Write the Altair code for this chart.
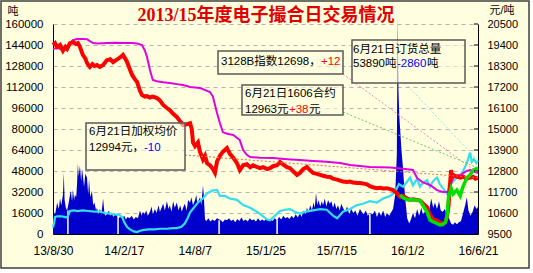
import json
import altair as alt
import pandas as pd

# ---------------- data ----------------
title_text = "2013/15年度电子撮合日交易情况"
x_tick_days = [0, 171, 342, 513, 684, 855, 1026]
x_tick_labels = ["13/8/30", "14/2/17", "14/8/7", "15/1/25", "15/7/15", "16/1/2", "16/6/21"]
left_ticks = [0, 16000, 32000, 48000, 64000, 80000, 96000, 112000, 128000, 144000, 160000]
right_ticks = [9500, 10600, 11700, 12800, 13900, 15000, 16100, 17200, 18300, 19400, 20500]

# daily volume (tons, left axis)
vol_day = [0, 3, 5, 8, 10, 14, 17, 20, 24, 26, 28, 31, 34, 38, 41, 43, 46, 48, 51, 53, 56, 58, 60, 62, 65,
           68, 70, 72, 75, 78, 82, 85, 87, 90, 94, 97, 100, 104, 106, 110, 113, 117, 121, 124, 126, 130, 135,
           138, 142, 146, 150, 155, 158, 162, 167, 172, 176, 180, 185, 190, 195, 200, 205, 210, 214, 217, 221,
           225, 229, 234, 238, 241, 246, 250, 255, 258, 262, 266, 270, 275, 279, 282, 286, 290, 294, 299, 303,
           307, 311, 314, 318, 323, 326, 331, 334, 338, 343, 346, 348, 352, 355, 358, 362, 364, 367, 370, 375,
           380, 385, 390, 396, 405, 410, 415, 420, 425, 430, 435, 440, 445, 450, 455, 460, 465, 470, 475, 480,
           485, 490, 495, 500, 505, 510, 515, 520, 525, 530, 535, 541, 546, 551, 556, 561, 566, 571, 576, 581,
           586, 591, 596, 600, 605, 610, 613, 617, 621, 625, 629, 632, 635, 638, 641, 645, 649, 652, 656, 660,
           664, 668, 672, 676, 680, 684, 688, 692, 696, 700, 705, 710, 715, 720, 725, 730, 735, 741, 745, 750,
           755, 760, 765, 772, 777, 782, 787, 792, 797, 802, 806, 812, 817, 821, 826, 830, 832, 834, 836, 838,
           841, 845, 848, 851, 855, 860, 864, 869, 874, 879, 884, 889, 893, 898, 903, 908, 913, 918, 922, 927,
           932, 936, 941, 946, 951, 956, 961, 966, 970, 975, 980, 985, 990, 995, 999, 1003, 1008, 1013, 1018,
           1022, 1026]
vol_val = [14000, 16000, 15000, 20000, 24000, 19000, 27000, 22000, 30000, 47000, 26000, 20000, 18000, 24000,
           30000, 33000, 25000, 34000, 26000, 30000, 28000, 38000, 54000, 44000, 52000, 40000, 50000, 45000,
           36000, 46000, 43000, 30000, 42000, 28000, 33000, 22000, 24000, 18000, 20000, 15000, 19000, 16000,
           27000, 16000, 14000, 15000, 18000, 14000, 16000, 13000, 15000, 14000, 12000, 13000, 12000, 14000,
           11000, 13000, 12000, 14000, 11000, 13000, 12000, 18000, 14000, 17000, 15000, 18000, 14000, 17000,
           21000, 15000, 19000, 16000, 22000, 17000, 20000, 23000, 18000, 25000, 19000, 22000, 17000, 25000,
           20000, 24000, 18000, 22000, 17000, 20000, 23000, 18000, 26000, 24000, 28000, 22000, 26000, 30000,
           24000, 26000, 28000, 22000, 37000, 30000, 11000, 10000, 12000, 9500, 11000, 10000, 12000, 10500,
           9000, 11000, 10500, 12000, 10000, 11000, 9000, 11500, 10000, 12500, 10000, 11000, 9500, 12000,
           10500, 11000, 9500, 12000, 10000, 11000, 10000, 12000, 10500, 11500, 10000, 12000, 10500, 13000,
           11000, 14000, 12000, 13000, 11500, 14000, 12000, 15000, 12500, 16000, 13000, 18000, 15000, 20000,
           17000, 22000, 18000, 24000, 20000, 31500, 22000, 26000, 21000, 25000, 22000, 27000, 21000, 26000,
           23000, 25000, 20000, 24000, 19000, 22000, 18000, 23000, 20000, 17000, 21000, 15000, 19000, 16000,
           18000, 14000, 19000, 17000, 15000, 18000, 14000, 16000, 15000, 18000, 13000, 17000, 14000, 18000,
           13000, 16000, 14000, 17000, 19000, 30000, 60000, 165000, 110000, 90000, 80000, 65000, 50000, 36000,
           25000, 12000, 8000, 11000, 16000, 12000, 19000, 14000, 20000, 15000, 17000, 22000, 18000, 27000,
           20000, 24000, 19000, 25000, 18000, 17000, 19000, 14000, 12000, 8000, 7000, 9000, 7500, 9000, 10000,
           16000, 22000, 28000, 18000, 14000, 17000, 22000, 19000, 20500]

# days with no trading (white gaps in the volume area)
gap_day = [36, 157, 401, 541, 765]
gap_val = [18000, 14000, 10500, 11000, 15500]

# total open orders (tons, left axis)
oi_day = [0, 3, 5, 10, 20, 27, 34, 38, 41, 50, 60, 72, 85, 100, 113, 125, 138, 150, 160, 167, 172, 179, 186,
          195, 203, 210, 217, 230, 245, 258, 275, 290, 299, 310, 318, 325, 331, 340, 350, 362, 372, 384, 396,
          403, 415, 427, 444, 459, 476, 492, 505, 517, 524, 536, 548, 560, 572, 584, 596, 610, 628, 645, 661,
          676, 686, 700, 717, 734, 748, 765, 782, 797, 814, 826, 835, 845, 855, 862, 869, 879, 886, 893, 903,
          910, 917, 927, 934, 941, 951, 958, 966, 975, 983, 990, 999, 1003, 1007, 1011, 1016, 1022, 1026]
oi_val = [5000, 9000, 13000, 13500, 13500, 13000, 12500, 15000, 17500, 18000, 17500, 18000, 17500, 17000,
          17000, 16000, 15500, 15000, 14500, 13000, 9000, 5300, 3500, 2000, 1500, 2500, 3000, 3500, 3500, 4000,
          4000, 4500, 4500, 5500, 8000, 12000, 16500, 20000, 24000, 27000, 31000, 33000, 33500, 29000, 29000,
          27000, 26000, 22000, 20000, 17000, 14000, 11000, 10500, 14000, 17500, 18500, 19000, 17000, 15500,
          17000, 18000, 19000, 18500, 14000, 12000, 17000, 19000, 22000, 23000, 25000, 24000, 27000, 29000,
          32000, 38000, 36000, 40000, 43000, 37000, 42000, 36000, 39000, 41000, 36000, 40000, 43000, 38000,
          35000, 31000, 38000, 40000, 43000, 44000, 48000, 54000, 58000, 62000, 55000, 57000, 54000, 56000]

# weighted average price (yuan/ton, right axis)
avg_day = [0, 5, 10, 17, 24, 30, 34, 41, 48, 55, 60, 65, 72, 78, 82, 87, 89, 95, 100, 106, 113, 121, 130,
           138, 145, 155, 162, 169, 174, 179, 186, 191, 198, 203, 210, 215, 222, 227, 234, 241, 251, 258, 266,
           275, 282, 290, 299, 307, 314, 323, 331, 335, 338, 343, 350, 355, 362, 367, 372, 379, 386, 391, 396,
           403, 410, 420, 427, 435, 444, 451, 459, 468, 476, 483, 492, 500, 507, 517, 524, 531, 541, 548, 555,
           565, 572, 579, 589, 596, 604, 613, 620, 628, 637, 645, 652, 661, 669, 676, 686, 693, 700, 710, 717,
           724, 734, 741, 748, 758, 765, 772, 782, 789, 797, 806, 814, 821, 826, 830, 838, 845, 855, 862, 869,
           879, 886, 893, 903, 910, 917, 927, 934, 941, 947, 951, 955, 958, 961, 963, 966, 975, 983, 990, 999,
           1007, 1014, 1020, 1026]
avg_val = [19400, 19500, 19300, 19400, 19100, 19300, 19200, 19500, 19550, 19450, 19500, 19300, 18880, 18700,
           18460, 18300, 18250, 18400, 18300, 18350, 18250, 18350, 18600, 18650, 18500, 18650, 18750, 18880,
           18700, 18500, 18100, 17830, 17600, 17460, 17000, 16780, 16700, 16720, 16650, 16700, 16620, 16500,
           16260, 16100, 15990, 15800, 15630, 15400, 15210, 15250, 15300, 15000, 14300, 14100, 14300, 13800,
           13400, 13600, 13200, 13100, 12900, 12700, 13300, 13600, 13800, 14000, 13700, 13500, 13220, 12850,
           13100, 13150, 13000, 13100, 13010, 12950, 13000, 12900, 12950, 13050, 13100, 13270, 13150, 13000,
           12950, 12800, 12590, 12700, 12900, 13010, 12850, 12700, 12650, 12600, 12550, 12500, 12490, 12400,
           12350, 12300, 12250, 12220, 12250, 12200, 12170, 12170, 12150, 12100, 12000, 11950, 11900, 11920,
           11880, 11900, 11850, 11800, 11700, 11650, 11440, 11500, 11350, 11300, 11320, 11280, 11250, 11100,
           10900, 10500, 10300, 10200, 10100, 10050, 10100, 10400, 11000, 12000, 12850, 12500, 12600, 12500,
           12450, 12500, 12400, 12450, 12500, 12400, 12450]

# 3128B index (right axis)
idx_day = [0, 10, 24, 34, 41, 48, 58, 72, 82, 89, 97, 110, 130, 150, 170, 191, 203, 215, 222, 227, 234, 241,
           251, 266, 282, 299, 314, 331, 355, 372, 379, 386, 396, 403, 410, 420, 435, 451, 459, 468, 476, 500,
           531, 565, 596, 628, 652, 693, 717, 765, 814, 850, 869, 879, 893, 910, 927, 941, 951, 958, 963, 970,
           983, 999, 1007, 1026]
idx_val = [19190, 19250, 19150, 19300, 19500, 19650, 19710, 19710, 19700, 19600, 19500, 19480, 19500, 19520,
           19500, 19500, 19480, 19400, 19100, 18770, 18090, 17570, 17500, 17450, 17410, 17350, 17300, 17200,
           17150, 17000, 16940, 16700, 15840, 15300, 14840, 14750, 14690, 14420, 13900, 13650, 13530, 13500,
           13480, 13420, 13380, 13330, 13300, 13220, 13110, 13010, 12980, 12900, 12850, 12430, 12200, 12070,
           11800, 11700, 11700, 11750, 12300, 12550, 12590, 12800, 12850, 12690]

# 1606 contract (right axis)
c1606_day = [838, 845, 855, 869, 886, 893, 903, 910, 917, 927, 934, 941, 947, 951, 955, 961, 966, 975, 983,
             990, 999, 1007, 1014, 1020, 1026]
c1606_val = [11540, 11400, 11300, 11300, 11250, 11000, 10650, 10230, 10150, 10050, 9980, 10000, 10100, 10400,
             11440, 11900, 11600, 11800, 11500, 12000, 12430, 12600, 12850, 12900, 12960]

# ---------------- helpers / layout ----------------
W, H = 425, 210
LEFT_MAX = 160000
R_MIN, R_MAX = 9500, 20500
BG = "#FFFFE0"
FONT = "Liberation Sans, Noto Sans CJK SC"
BOX_FS = 11.5


def px_day(px):
    return (px - 53) * 1026 / 425


def px_tons(py):
    return (234 - py) / 210 * LEFT_MAX


def price_tons(p):
    return (p - R_MIN) / (R_MAX - R_MIN) * LEFT_MAX


label_expr = "{}[indexof({}, datum.value)]".format(json.dumps(x_tick_labels), json.dumps(x_tick_days))
xscale = alt.Scale(domain=[0, 1026], nice=False, zero=False)
xaxis = alt.Axis(values=x_tick_days, labelExpr=label_expr, grid=False, ticks=False, domainColor="black",
                 domainWidth=1, labelFontSize=12, labelPadding=11, labelColor="black", labelFont=FONT,
                 labelOverlap=False, labelFlush=False)


def X(field):
    return alt.X(f"{field}:Q", scale=xscale, axis=xaxis, title=None)


lscale = alt.Scale(domain=[0, LEFT_MAX], nice=False, zero=False)
rscale = alt.Scale(domain=[R_MIN, R_MAX], nice=False, zero=False)

one = pd.DataFrame({"a": [0]})

vol_df = pd.DataFrame({"d": vol_day, "v": vol_val})
gap_df = pd.DataFrame({"d": gap_day, "v": gap_val, "z": [0] * len(gap_day)})
oi_df = pd.DataFrame({"d": oi_day, "v": oi_val})
avg_df = pd.DataFrame({"d": avg_day, "p": avg_val})
idx_df = pd.DataFrame({"d": idx_day, "p": idx_val})
c_df = pd.DataFrame({"d": c1606_day, "p": c1606_val})

area = alt.Chart(vol_df).mark_area(color="#0000CC", interpolate="linear", clip=False).encode(
    x=X("d"),
    y=alt.Y("v:Q", scale=lscale, title=None,
            axis=alt.Axis(orient="left", values=left_ticks, format="d", grid=True, gridDash=[4, 4],
                          gridColor="#B4B4B4", gridWidth=1, ticks=False, domainColor="black",
                          labelFontSize=11.5, labelPadding=10, labelColor="black", labelFont=FONT)),
)
gaps = alt.Chart(gap_df).mark_rule(color="white", strokeWidth=1.5).encode(
    x=X("d"), y=alt.Y("z:Q", scale=lscale, axis=None), y2="v:Q")
oi_line = alt.Chart(oi_df).mark_line(color="#33DDF0", strokeWidth=2.2).encode(
    x=X("d"), y=alt.Y("v:Q", scale=lscale, axis=None))
idx_line = alt.Chart(idx_df).mark_line(color="#E000E0", strokeWidth=2).encode(
    x=X("d"), y=alt.Y("p:Q", scale=rscale, axis=None))
avg_line = alt.Chart(avg_df).mark_line(color="#FF0000", strokeWidth=4).encode(
    x=X("d"),
    y=alt.Y("p:Q", scale=rscale, title=None,
            axis=alt.Axis(orient="right", values=right_ticks, format="d", grid=False, ticks=False,
                          domainColor="black", labelFontSize=11, labelPadding=9, labelColor="black",
                          labelFont=FONT)))
c_line = alt.Chart(c_df).mark_line(color="#00E000", strokeWidth=3.5).encode(
    x=X("d"), y=alt.Y("p:Q", scale=rscale, axis=None))

# inward tick marks on the right axis
rticks = alt.Chart(pd.DataFrame({"p": right_ticks})).mark_rule(color="black", strokeWidth=1).encode(
    x=alt.value(W - 4), x2=alt.value(W), y=alt.Y("p:Q", scale=rscale, axis=None))

# dotted connectors from the call-out boxes to the latest values
conn_df = pd.DataFrame({
    "x1": [px_day(185), px_day(343), px_day(343), px_day(405)],
    "y1": [px_tons(155), px_tons(74), px_tons(112), px_tons(83)],
    "x2": [avg_day[-1], idx_day[-1], c1606_day[-1], oi_day[-1]],
    "y2": [price_tons(avg_val[-1]), price_tons(idx_val[-1]), price_tons(c1606_val[-1]), oi_val[-1]],
    "c": ["#E07040", "#F080C0", "#60D060", "#80E8F0"],
})
conns = alt.Chart(conn_df).mark_rule(strokeDash=[2, 2], strokeWidth=1).encode(
    x=X("x1"), x2="x2:Q", y=alt.Y("y1:Q", scale=lscale, axis=None), y2="y2:Q",
    color=alt.Color("c:N", scale=None))

layers = [area, gaps, oi_line, idx_line, avg_line, c_line, rticks, conns]

# call-out boxes (pixel positions relative to the plot area)
boxes = [(33, 132, 99, 146), (165, 290, 27, 50), (189, 290, 61, 91), (299, 412, 16, 59)]
for bx1, bx2, by1, by2 in boxes:
    layers.append(alt.Chart(one).mark_rect(fill=BG, fillOpacity=0.55, stroke="#5A5A5A", strokeWidth=1.5).encode(
        x=alt.value(bx1), x2=alt.value(bx2), y=alt.value(by1), y2=alt.value(by2)))

segments = [
    ("6月21日加权均价", 36, 108, "black"),
    ("12994元，", 36, 124, "black"),
    ("-10", 91, 124, "#0000FF"),
    ("3128B指数12698，", 168, 38, "black"),
    ("+12", 268, 38, "#FF0000"),
    ("6月21日1606合约", 192, 70, "black"),
    ("12963元", 192, 86, "black"),
    ("+38", 236, 86, "#FF0000"),
    ("元", 256, 86, "black"),
    ("6月21日订货总量", 300, 26, "black"),
    ("53890吨", 300, 40, "black"),
    ("-2860", 344, 40, "#0000FF"),
    ("吨", 374, 40, "black"),
]
for txt, sx, sy, col in segments:
    layers.append(alt.Chart(one).mark_text(text=txt, align="left", baseline="middle", fontSize=BOX_FS,
                                           font=FONT, color=col).encode(x=alt.value(sx), y=alt.value(sy)))

# title and unit labels
layers.append(alt.Chart(one).mark_text(text=title_text, align="center", baseline="middle", fontSize=18,
                                       fontWeight="bold", font="Liberation Serif, Noto Sans CJK SC",
                                       color="#E00000").encode(x=alt.value(213), y=alt.value(-8)))
layers.append(alt.Chart(one).mark_text(text="吨", align="center", baseline="middle", fontSize=11,
                                       font=FONT, color="black").encode(x=alt.value(-40), y=alt.value(-12)))
layers.append(alt.Chart(one).mark_text(text="元/吨", align="center", baseline="middle", fontSize=11,
                                       font=FONT, color="black").encode(x=alt.value(449), y=alt.value(-13)))

# outer frame
layers.append(alt.Chart(one).mark_rect(filled=False, stroke="#404040", strokeWidth=1.5).encode(
    x=alt.value(-52), x2=alt.value(476), y=alt.value(-23), y2=alt.value(244)))
layers.append(alt.Chart(one).mark_rect(color="white").encode(
    x=alt.value(477), x2=alt.value(481), y=alt.value(-25), y2=alt.value(250)))
layers.append(alt.Chart(one).mark_rect(color="white").encode(
    x=alt.value(-54), x2=alt.value(481), y=alt.value(245), y2=alt.value(250)))

chart = alt.layer(*layers).resolve_scale(y="independent").properties(
    width=W, height=H,
    autosize=alt.AutoSizeParams(type="none"),
    padding={"left": 53, "top": 24, "right": 55, "bottom": 39},
    background=BG,
).configure_view(stroke=None)

chart.save("out.html", embed_options={"renderer": "svg", "actions": False})
